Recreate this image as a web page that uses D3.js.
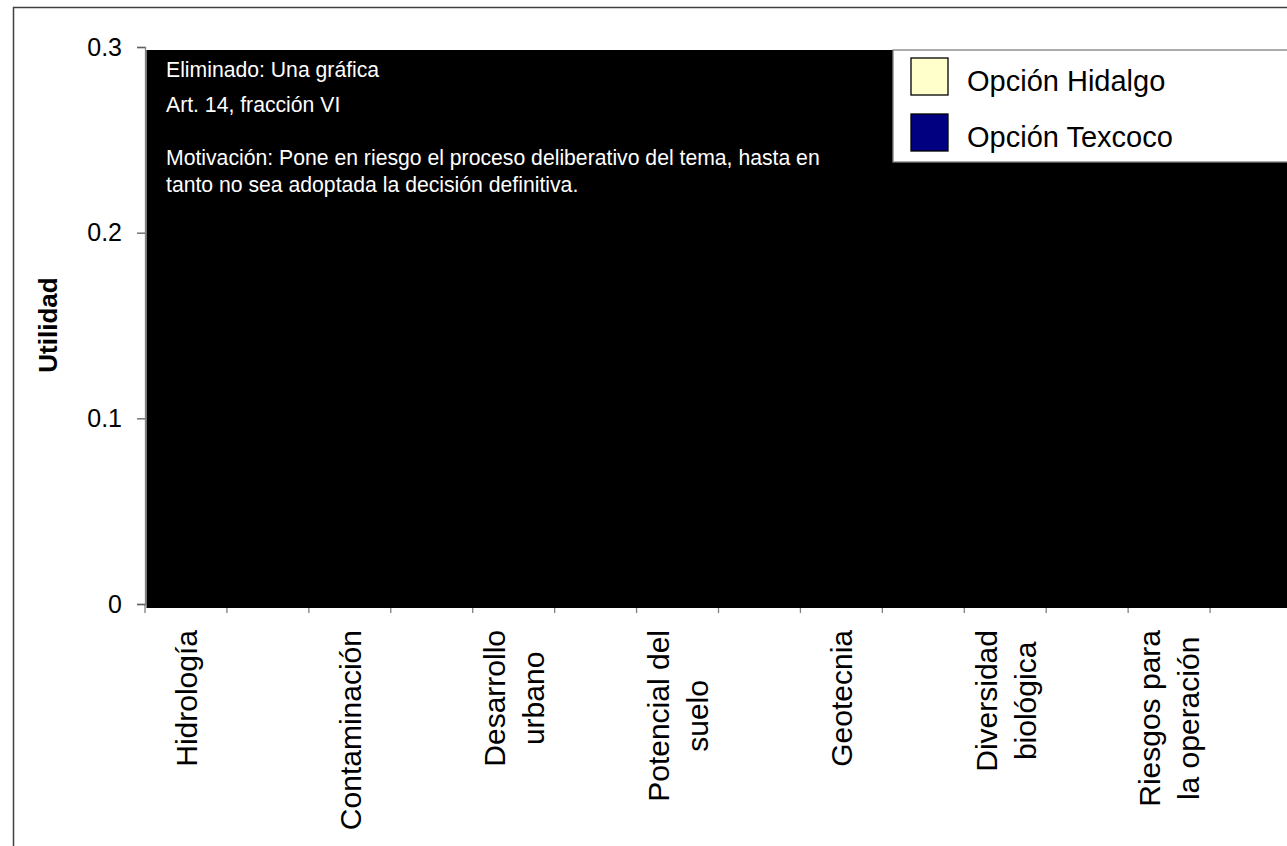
<!DOCTYPE html>
<html>
<head>
<meta charset="utf-8">
<script src="https://cdn.jsdelivr.net/npm/d3@7"></script>
<style>
  html, body { margin: 0; padding: 0; background: #fff; overflow: hidden; }
  svg { display: block; font-family: "Liberation Sans", Arial, sans-serif; }
</style>
</head>
<body>
<svg id="chart" width="1287" height="846"></svg>
<script>
// Category slots (labels every other slot, blanks between)
const categories = ["Hidrología", "", "Contaminación", "", "Desarrollo\nurbano", "",
  "Potencial del\nsuelo", "", "Geotecnia", "", "Diversidad\nbiológica", "",
  "Riesgos para\nla operación", ""];
const seriesNames = ["Opción Hidalgo", "Opción Texcoco"];
const seriesColors = ["#FFFFCC", "#000080"];
const yTicks = [0, 0.1, 0.2, 0.3];
const yDomain = [0, 0.3];
const yTitle = "Utilidad";
const noteLines = ["Eliminado: Una gráfica", "Art. 14, fracción VI", "",
  "Motivación: Pone en riesgo el proceso deliberativo del tema, hasta en",
  "tanto no sea adoptada la decisión definitiva."];

const svg = d3.select("#chart");
const W = 1287, H = 846;
const plot = { left: 145, top: 47, bottom: 604, right: 1292 };

const x = d3.scaleBand().domain(d3.range(categories.length)).range([plot.left, plot.right]).padding(0);
const y = d3.scaleLinear().domain(yDomain).range([plot.bottom, plot.top]);

// outer chart border (extends beyond the picture)
svg.append("rect").attr("x", 13.5).attr("y", 7.5).attr("width", W + 10).attr("height", H + 10)
  .attr("fill", "#fff").attr("stroke", "#404040").attr("stroke-width", 1.5);

// x axis ticks (between slots)
const tickG = svg.append("g").attr("stroke", "#808080").attr("stroke-width", 1.3);
d3.range(categories.length + 1).forEach(i => {
  const xx = i < categories.length ? x(i) : x(categories.length - 1) + x.bandwidth();
  tickG.append("line").attr("x1", xx).attr("x2", xx).attr("y1", plot.bottom).attr("y2", plot.bottom + 9);
});

// y axis
const yAxis = d3.axisLeft(y).tickValues(yTicks).tickSize(8).tickPadding(15)
  .tickFormat(d => d === 0 ? "0" : d3.format(".1f")(d));
const yg = svg.append("g").attr("transform", `translate(${plot.left},0)`).call(yAxis);
yg.select(".domain").attr("stroke", "#808080").attr("stroke-width", 1.3);
yg.selectAll(".tick line").attr("stroke", "#606060").attr("stroke-width", 1.3);
yg.selectAll(".tick text").attr("font-size", 25).attr("fill", "#000")
  .attr("font-family", "'Liberation Sans', Arial, sans-serif");

// redaction box covering the plot area
svg.append("rect")
  .attr("x", plot.left + 1.5).attr("y", y(0.3) + 3)
  .attr("width", W - plot.left).attr("height", y(0) - y(0.3) + 1)
  .attr("fill", "#000");

// redaction note text
const noteY = [77, 112, null, 165, 192];
noteLines.forEach((t, i) => {
  if (!t) return;
  svg.append("text").attr("x", 166).attr("y", noteY[i]).attr("fill", "#fff")
    .attr("font-size", 21.2).text(t);
});

// y title
svg.append("text").attr("transform", `translate(57,325) rotate(-90)`)
  .attr("text-anchor", "middle").attr("font-size", 26).attr("font-weight", "bold").text(yTitle);

// category labels (rotated, centered lines, top aligned)
const labelTop = 630, fs = 30, lh = 39;
categories.forEach((c, i) => {
  if (!c) return;
  const lines = c.split("\n");
  const cx = x(i) + x.bandwidth() / 2;
  const g = svg.append("g").attr("transform", `translate(${cx},${labelTop}) rotate(-90)`);
  const texts = lines.map((l, k) => g.append("text").attr("font-size", fs).attr("text-anchor", "middle")
    .attr("y", (k - (lines.length - 1) / 2) * lh + 0.36 * fs).text(l));
  const maxW = d3.max(texts, t => t.node().getComputedTextLength());
  texts.forEach(t => t.attr("x", -maxW / 2));
});

// legend
svg.append("rect").attr("x", 893).attr("y", 50).attr("width", 420).attr("height", 112)
  .attr("fill", "#fff").attr("stroke", "#808080").attr("stroke-width", 1.3);
seriesNames.forEach((s, i) => {
  const yy = 58 + i * 56;
  svg.append("rect").attr("x", 911).attr("y", yy).attr("width", 37).attr("height", 37)
    .attr("fill", seriesColors[i]).attr("stroke", "#000").attr("stroke-width", 1.3);
  svg.append("text").attr("x", 967).attr("y", yy + 33).attr("font-size", 29).text(s);
});
</script>
</body>
</html>
